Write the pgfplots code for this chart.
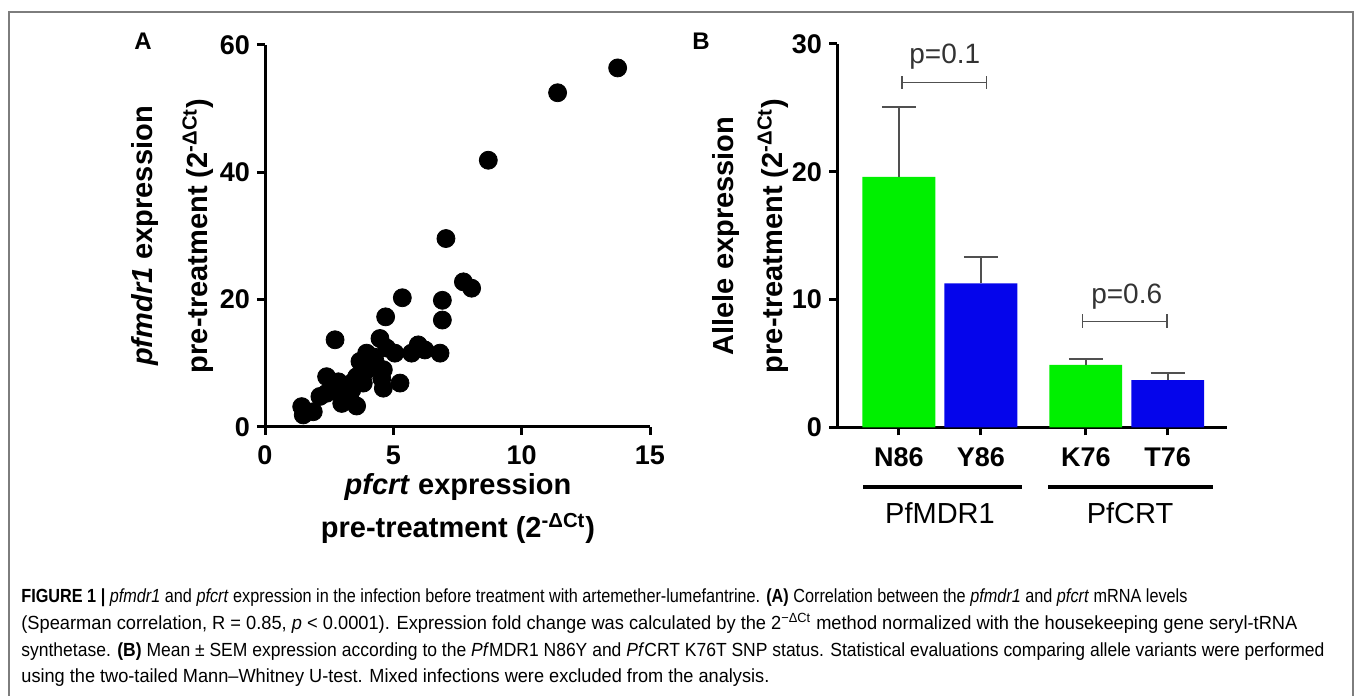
\documentclass[border=0pt]{standalone}
\usepackage{fontspec}
\setmainfont{Liberation Sans}
\usepackage{graphicx}
\usepackage{pgfplots}
\pgfplotsset{compat=1.18}
\definecolor{barg}{RGB}{0,240,0}
\definecolor{barb}{RGB}{5,5,235}
\definecolor{errc}{RGB}{80,80,80}
\definecolor{framec}{RGB}{125,125,125}
\newcommand{\tickfont}{\bfseries\fontsize{13.5}{13.5}\selectfont}
\newcommand{\labfont}{\bfseries\fontsize{14.5}{14.5}\selectfont}
\newcommand{\capfont}{\fontsize{9.5}{11}\selectfont}
\begin{document}
\begin{tikzpicture}[x=0.5pt,y=0.5pt]
\path[use as bounding box] (0,0) rectangle (1355,696);
\draw[framec, line width=1pt] (9,-4) -- (9,684) -- (1353,684) -- (1353,-4);

% Panel A
\begin{axis}[at={(132.5pt,134.5pt)}, anchor=south west, scale only axis,
  width=192.5pt, height=191pt,
  xmin=0, xmax=15, ymin=0, ymax=60,
  axis lines*=left, clip=false,
  xtick={0,5,10,15}, ytick={0,20,40,60},
  tick align=outside, major tick length=4pt,
  axis line style={line width=1.5pt},
  tick style={line width=1.5pt, black},
  ticklabel style={font=\tickfont},
  xticklabel style={yshift=-2pt},
  /pgf/number format/assume math mode=true]
\addplot[only marks, mark=*, mark size=4.5pt, black] coordinates {
(13.74,56.4) (11.40,52.5) (8.70,41.9) (7.05,29.6) (7.73,22.8) (8.05,21.8)
(5.35,20.3) (6.91,19.9) (4.70,17.3) (6.91,16.8) (2.73,13.7) (4.48,13.9)
(5.97,12.9) (5.71,11.6) (6.23,12.1) (6.82,11.6) (5.06,11.6) (4.74,12.4)
(3.96,11.6) (3.70,10.3) (4.29,10.3) (4.61,9.0) (3.90,8.7) (2.40,7.9)
(2.86,7.1) (3.44,7.1) (3.83,6.9) (5.26,6.9) (4.61,6.1) (3.18,6.3)
(2.92,5.3) (2.14,4.8) (2.40,5.3) (2.99,3.7) (3.57,3.3) (3.31,4.5)
(1.43,3.2) (1.49,1.9) (1.88,2.4) (4.22,11.0) (4.09,9.4) (3.57,7.9)
(2.66,6.3) (3.38,5.8) (4.55,7.6)
};
\end{axis}
\node[font=\bfseries\fontsize{12}{12}\selectfont] at (143,655) {A};
\node[font=\labfont, anchor=base] at (458,201) {\textit{pfcrt} expression};
\node[font=\labfont, anchor=base] at (458,158) {pre-treatment (2\textsuperscript{-ΔCt})};
\node[font=\labfont, anchor=base, rotate=90] at (152,460) {\textit{pfmdr1} expression};
\node[font=\labfont, anchor=base, rotate=90] at (207,460) {pre-treatment (2\textsuperscript{-ΔCt})};

% Panel B
\begin{axis}[at={(418.5pt,134.35pt)}, anchor=south west, scale only axis,
  width=194.85pt, height=191.65pt,
  xmin=-0.756, xmax=4.0, ymin=0, ymax=30,
  axis lines*=left, clip=false,
  ybar, bar width=0.89, /pgf/bar shift=0pt,
  xtick={0,1,2.28,3.28}, xticklabels={N86,Y86,K76,T76},
  ytick={0,10,20,30},
  tick align=outside, major tick length=4pt,
  axis line style={line width=1.5pt},
  tick style={line width=1.5pt, black},
  ticklabel style={font=\tickfont},
  xticklabel style={yshift=-2.5pt},
  /pgf/number format/assume math mode=true]
\addplot[fill=barg, draw=none,
  error bars/.cd, y dir=plus, y explicit,
  error bar style={errc, line width=0.9pt},
  error mark options={errc, rotate=90, line width=1.1pt, mark size=8.5pt}]
  coordinates {(0,19.6) +- (0,5.5) (2.28,4.88) +- (0,0.44)};
\addplot[fill=barb, draw=none,
  error bars/.cd, y dir=plus, y explicit,
  error bar style={errc, line width=0.9pt},
  error mark options={errc, rotate=90, line width=1.1pt, mark size=8.5pt}]
  coordinates {(1,11.27) +- (0,2.03) (3.28,3.70) +- (0,0.58)};
\draw[errc, line width=0.7pt, |-|] (axis cs:0.03,27.0) -- (axis cs:1.08,27.0);
\draw[errc, line width=0.7pt, |-|] (axis cs:2.23,8.3) -- (axis cs:3.28,8.3);
\node[text=black!80, font=\fontsize{14}{14}\selectfont] at (axis cs:0.56,29.0) {p=0.1};
\node[text=black!80, font=\fontsize{14}{14}\selectfont] at (axis cs:2.78,10.2) {p=0.6};
\end{axis}
\node[font=\bfseries\fontsize{12}{12}\selectfont] at (701,655) {B};
\node[font=\labfont, anchor=base, rotate=90] at (733,460) {Allele expression};
\node[font=\labfont, anchor=base, rotate=90] at (782,460) {pre-treatment (2\textsuperscript{-ΔCt})};
\draw[line width=2pt] (863,209.3) -- (1021.7,209.3);
\draw[line width=2pt] (1048.3,209.3) -- (1213.3,209.3);
\node[font=\fontsize{14.5}{14.5}\selectfont] at (940,183) {PfMDR1};
\node[font=\fontsize{14.5}{14.5}\selectfont] at (1130,183) {PfCRT};

% Caption
\node[anchor=base west, inner sep=0] at (21,93) {\resizebox{583pt}{\height}{\capfont\textbf{FIGURE 1 |} \textit{pfmdr1} and \textit{pfcrt} expression in the infection before treatment with artemether-lumefantrine. \textbf{(A)} Correlation between the \textit{pfmdr1} and \textit{pfcrt} mRNA levels}};
\node[anchor=base west, inner sep=0] at (21,66) {\resizebox{638pt}{\height}{\capfont(Spearman correlation, R = 0.85, \textit{p} < 0.0001). Expression fold change was calculated by the 2\textsuperscript{−ΔCt} method normalized with the housekeeping gene seryl-tRNA}};
\node[anchor=base west, inner sep=0] at (21,39) {\resizebox{651.5pt}{\height}{\capfont synthetase. \textbf{(B)} Mean ± SEM expression according to the \textit{Pf}MDR1 N86Y and \textit{Pf}CRT K76T SNP status. Statistical evaluations comparing allele variants were performed}};
\node[anchor=base west, inner sep=0] at (21,13) {\resizebox{374pt}{\height}{\capfont using the two-tailed Mann–Whitney U-test. Mixed infections were excluded from the analysis.}};
\end{tikzpicture}
\end{document}
